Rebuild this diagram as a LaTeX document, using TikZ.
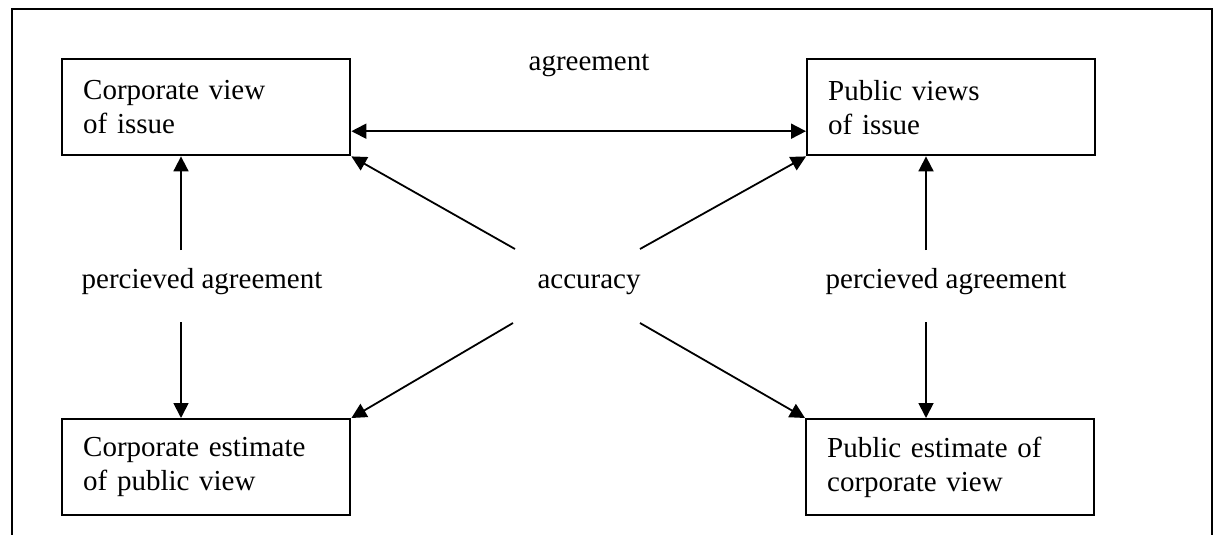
\documentclass[tikz,border=0pt]{standalone}
\usepackage{fontspec}
\setmainfont{Liberation Serif}
\usetikzlibrary{arrows.meta,calc}
\begin{document}
\begin{tikzpicture}[x=0.5pt,y=-0.5pt,
  every node/.style={font=\fontsize{14.5}{17}\selectfont},
  viewbox/.style={draw, line width=1.2pt, rectangle, minimum height=48pt,
    text width=123pt, inner xsep=10.5pt, inner ysep=0pt, align=left,
    anchor=north west},
  link/.style={line width=0.9pt, -{Triangle[length=7.5pt,width=7.5pt]}},
  tag/.style={anchor=base, inner sep=0pt}]
\useasboundingbox (0,0) rectangle (1215,535);

% open frame around the figure
\draw[line width=1pt] (12,545) -- (12,9) -- (1212,9) -- (1212,545);

% the four views
\node[viewbox] (cv) at (61,58)  {Corporate view\\of issue};
\node[viewbox] (pv) at (806,58) {Public views\\of issue};
\node[viewbox] (ce) at (61,418) {Corporate estimate\\of public view};
\node[viewbox] (pe) at (805,418) {Public estimate of\\corporate view};

% labels
\node[tag] (agr) at (589,71)  {agreement};
\node[tag] (acc) at (589,288) {accuracy};
\node[tag] (pal) at (202,288) {percieved agreement};
\node[tag] (par) at (946,288) {percieved agreement};

% free ends of the connectors
\coordinate (ul) at (515,249);
\coordinate (ur) at (640,249);
\coordinate (ll) at (513,323);
\coordinate (lr) at (640,323);
\coordinate (lt) at (181,250);
\coordinate (lb) at (181,322);
\coordinate (rt) at (926,250);
\coordinate (rb) at (926,322);

% agreement
\draw[line width=0.9pt, {Triangle[length=7.5pt,width=7.5pt]}-{Triangle[length=7.5pt,width=7.5pt]}]
  ($(cv.east)+(0,24)$) -- ($(pv.west)+(0,24)$);

% accuracy
\draw[link] (ul) -- (cv.south east);
\draw[link] (ur) -- (pv.south west);
\draw[link] (ll) -- (ce.north east);
\draw[link] (lr) -- (pe.north west);

% perceived agreement
\draw[link] (lt) -- (lt |- cv.south);
\draw[link] (lb) -- (lb |- ce.north);
\draw[link] (rt) -- (rt |- pv.south);
\draw[link] (rb) -- (rb |- pe.north);
\end{tikzpicture}
\end{document}
